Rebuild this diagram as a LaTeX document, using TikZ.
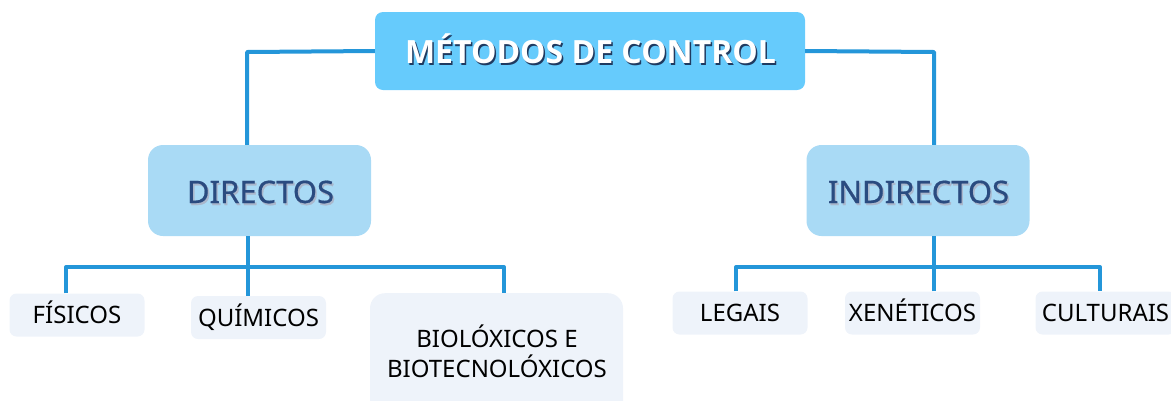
\documentclass[tikz,border=0pt]{standalone}
\usepackage{fontspec}
\setmainfont{Noto Sans}
\newfontfamily\topfont{Open Sans}
\newfontfamily\midfont{Noto Sans}[FakeBold=0.6]
\definecolor{topfill}{HTML}{66CBFC}
\definecolor{midfill}{HTML}{A9DAF5}
\definecolor{leaffill}{HTML}{EEF3FA}
\definecolor{linecol}{HTML}{2496D9}
\definecolor{midtext}{HTML}{2A4B80}
\definecolor{topshadow}{HTML}{1F3A60}
\begin{document}
\begin{tikzpicture}[x=1pt,y=-1pt,
  topbox/.style={fill=topfill,rounded corners=8pt,minimum width=430pt,minimum height=78pt,inner sep=0pt},
  midbox/.style={fill=midfill,rounded corners=15pt,minimum width=223pt,minimum height=91pt,inner sep=0pt},
  leafbox/.style={fill=leaffill,rounded corners=7pt,minimum width=135pt,minimum height=43pt,inner sep=0pt,text height=17pt,text depth=0pt},
  toptext/.style={font=\topfont\bfseries\fontsize{32}{36}\selectfont,inner sep=0pt,text height=23pt,text depth=0pt},
  midtext/.style={font=\midfont\fontsize{31}{36}\selectfont,inner sep=0pt,text height=22pt,text depth=0pt},
  leaftext/.style={font=\fontsize{24}{30}\selectfont,text=black},
  conn/.style={draw=linecol,line width=4pt,line join=round}]
\useasboundingbox (0,0) rectangle (1171,400);
% boxes
\node[topbox] (top) at (590,51) {};
\node[toptext,text=topshadow] (topsh) at (592,53.5) {MÉTODOS DE CONTROL};
\node[toptext,text=white] (toptx) at (590.5,51.5) {MÉTODOS DE CONTROL};
\node[midbox] (dir) at (259.5,190.5) {};
\node[midtext,text=midtext!40] (dirsh) at (262,194) {DIRECTOS};
\node[midtext,text=midtext] (dirtx) at (260.5,192) {DIRECTOS};
\node[midbox] (ind) at (918,190.5) {};
\node[midtext,text=midtext!40] (indsh) at (920,194) {INDIRECTOS};
\node[midtext,text=midtext] (indtx) at (918.5,192) {INDIRECTOS};
\node[leafbox,leaftext] (fis) at (77,315) {FÍSICOS};
\node[leafbox,leaftext] (qui) at (258.5,317.5) {QUÍMICOS};
\node[leafbox,minimum width=253pt,minimum height=125pt,rounded corners=15pt,anchor=north] (bio) at (496.5,293) {};
\node[leaftext,align=center] (biotx) at (497,351) {BIOLÓXICOS E\\BIOTECNOLÓXICOS};
\node[leafbox,leaftext] (leg) at (740,313) {LEGAIS};
\node[leafbox,leaftext] (xen) at (912.5,313) {XENÉTICOS};
\node[leafbox,leaftext,minimum width=140pt] (cul) at (1105.5,313) {CULTURAIS};
% hubs
\coordinate (lj) at (247,52);
\coordinate (rj) at (934,52);
\coordinate (dj) at (248,267);
\coordinate (fj) at (66,267);
\coordinate (bj) at (504,267);
\coordinate (ij) at (934,267);
\coordinate (gj) at (736,267);
\coordinate (cj) at (1100,267);
% connectors
\draw[conn] (top.west) -- (lj) -- (dir.north -| lj);
\draw[conn] (top.east) -- (rj) -- (ind.north -| rj);
\draw[conn] (dir.south -| dj) -- (dj);
\draw[conn] (fis.north -| fj) -- (fj) -- (bj) -- (bio.north -| bj);
\draw[conn] (qui.north -| dj) -- (dj);
\draw[conn] (ind.south -| ij) -- (ij);
\draw[conn] (leg.north -| gj) -- (gj) -- (cj) -- (cul.north -| cj);
\draw[conn] (xen.north -| ij) -- (ij);
\end{tikzpicture}
\end{document}
